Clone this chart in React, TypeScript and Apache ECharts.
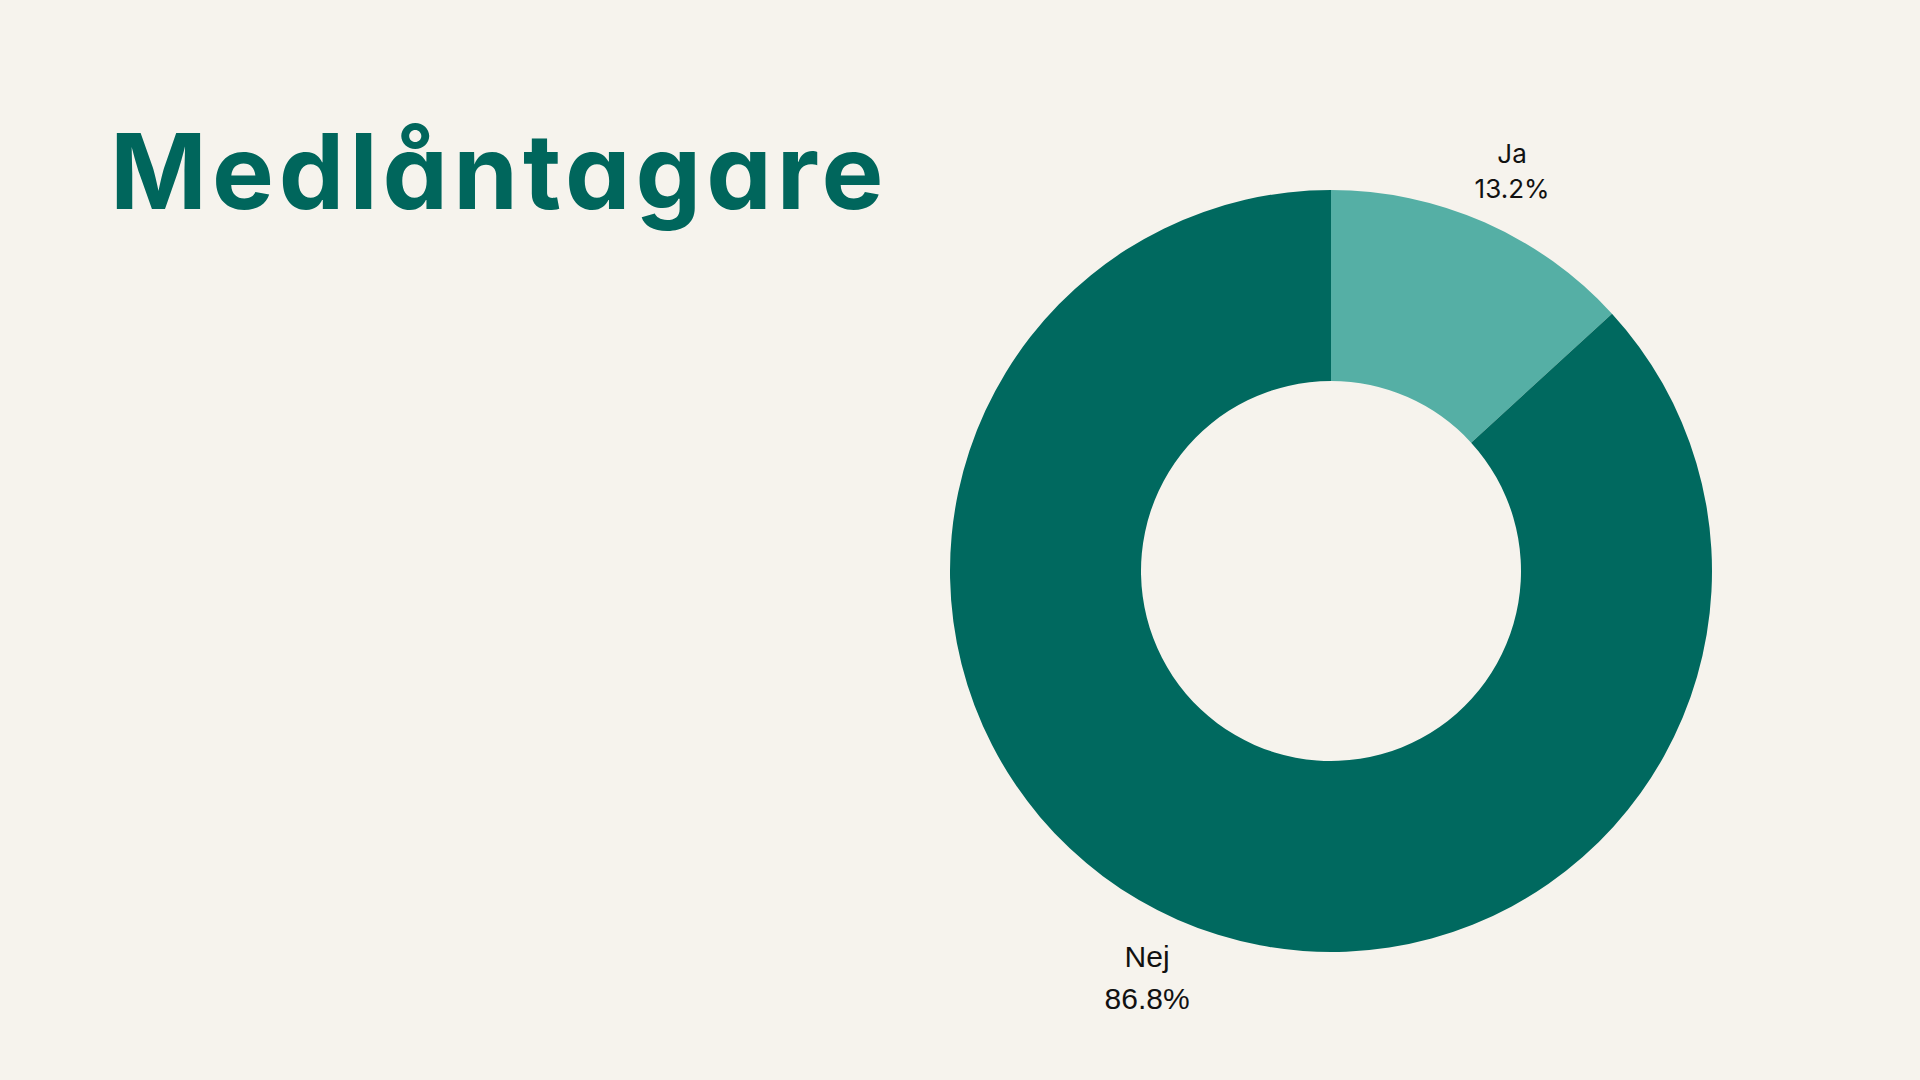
import React, { useEffect, useRef } from "react";
import * as echarts from "echarts";

const titleText = "Medlåntagare";
const categories = ["Ja", "Nej"];
const values = [13.2, 86.8];
const colors = ["#55AFA5", "#00695F"];
const labelLineLengths = [56, 63];
const labelFonts = ["Inter", "Liberation Sans"];
const labelSizes = [26, 30];
const labelLineHeights = [35, 42];

export default function App() {
  const ref = useRef<HTMLDivElement>(null);
  useEffect(() => {
    if (!ref.current) return;
    const chart = echarts.init(ref.current, undefined, { renderer: "svg" });
    chart.setOption({
      animation: false,
      backgroundColor: "#F6F3ED",
      title: {
        text: titleText,
        left: 105,
        top: 114,
        textStyle: {
          fontFamily: "Inter",
          fontWeight: 700,
          fontSize: 104,
          color: "#00665C",
        },
      },
      series: [
        {
          type: "pie",
          center: [1331, 571],
          radius: [190, 381],
          startAngle: 90,
          clockwise: true,
          avoidLabelOverlap: false,
          percentPrecision: 1,
          label: {
            show: true,
            position: "outside",
            formatter: "{b}\n{d}%",
            fontSize: 27,
            lineHeight: 34,
            color: "#111111",
          },
          labelLine: { show: false, length2: 0 },
          labelLayout: () => ({ align: "center", verticalAlign: "middle" }),
          data: categories.map((c, i) => ({
            name: c,
            value: values[i],
            itemStyle: { color: colors[i] },
            label: {
              fontFamily: labelFonts[i],
              fontSize: labelSizes[i],
              lineHeight: labelLineHeights[i],
            },
            labelLine: { show: false, length: labelLineLengths[i], length2: 0 },
          })),
        },
      ],
    });
    return () => chart.dispose();
  }, []);
  return (
    <>
      <style>{`svg text[style*="104px"]{letter-spacing:5px;font-feature-settings:"cv11" 1;}`}</style>
      <div
        ref={ref}
        style={{ position: "fixed", left: 0, top: 0, width: 1920, height: 1080 }}
      />
    </>
  );
}
